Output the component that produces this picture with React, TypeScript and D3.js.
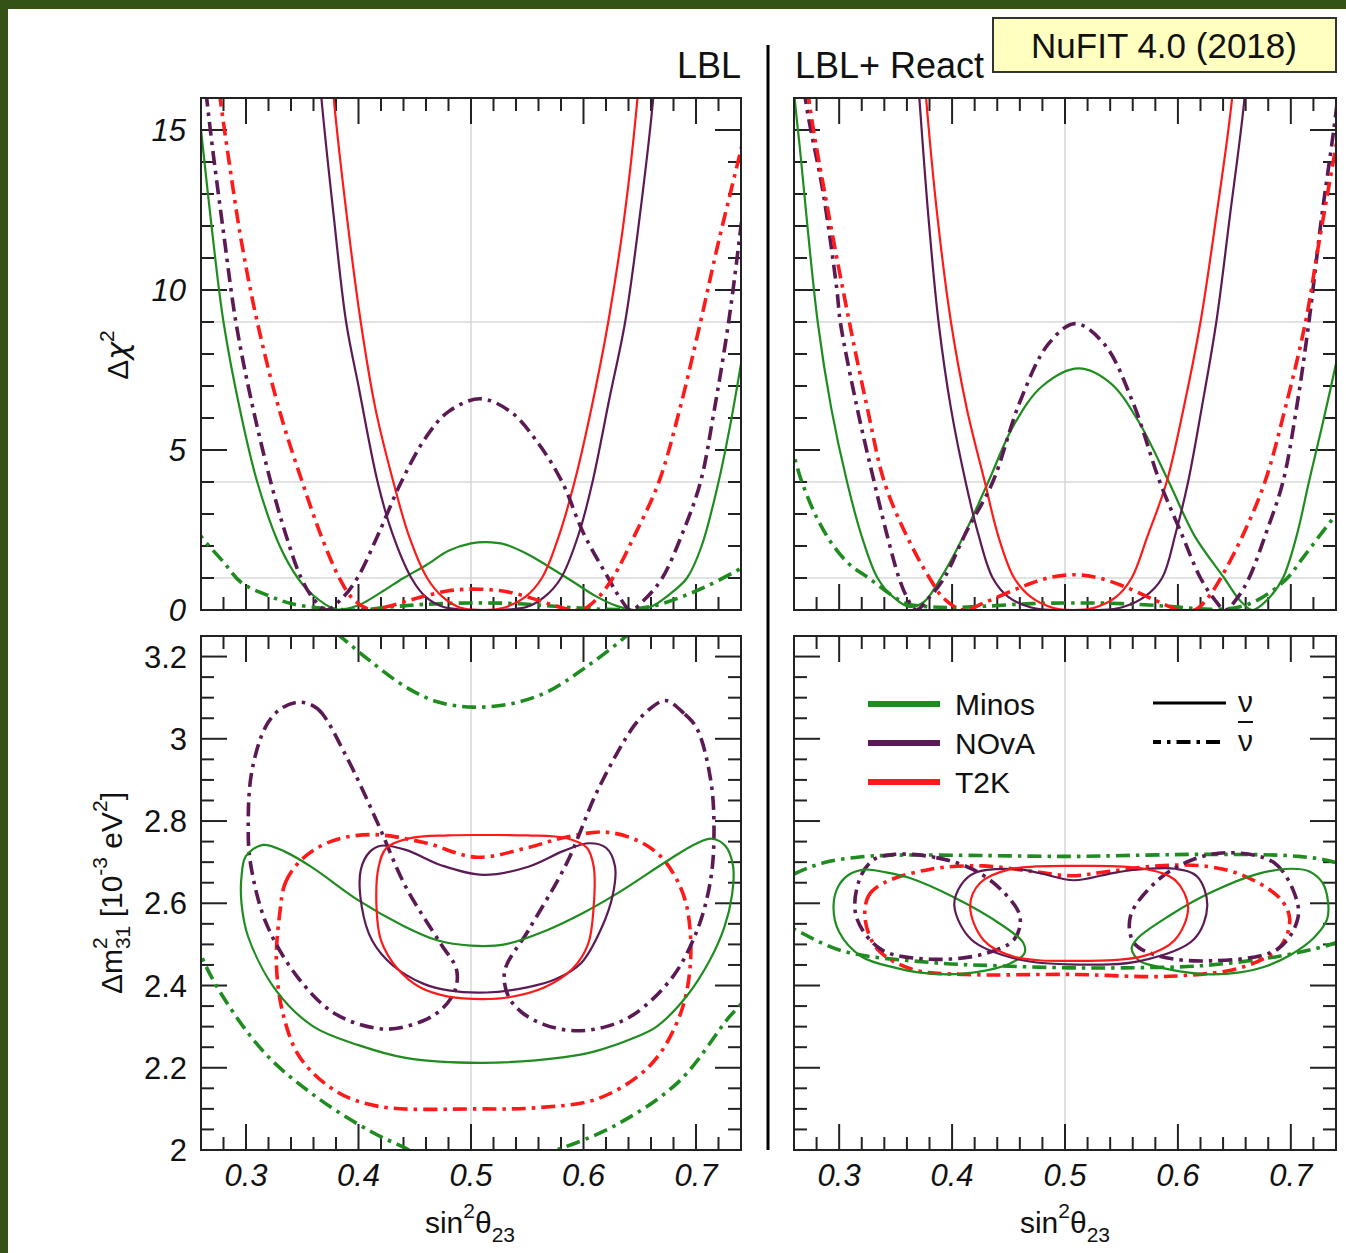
import React from 'react';
import * as d3 from 'd3';

type P = [number, number];

const GREEN = '#1f8c1f';
const PURPLE = '#5c1a55';
const RED = '#ff1a1a';
const FONT = '"Liberation Sans", Arial, sans-serif';
const DASHDOT = '14 6 3.5 6';

// ---------- tick values ----------
const xMajorTicks = [0.3, 0.4, 0.5, 0.6, 0.7];
const xTickLabels = ['0.3', '0.4', '0.5', '0.6', '0.7'];
const chiMajorTicks = [5, 10, 15];
const chiTickLabels = ['0', '5', '10', '15'];
const chiLabelValues = [0, 5, 10, 15];
const chiGrid = [1, 4, 9];
const dmMajorTicks = [2.2, 2.4, 2.6, 2.8, 3.0, 3.2];
const dmLabelValues = [2, 2.2, 2.4, 2.6, 2.8, 3.0, 3.2];
const dmTickLabels = ['2', '2.2', '2.4', '2.6', '2.8', '3', '3.2'];

// ---------- Δχ² profiles, LBL ----------
const minosNuLBL: P[] = [[0.255,16.5],[0.26,15],[0.27,11.8],[0.28,9],[0.295,6.2],[0.31,4],[0.33,2],[0.346,1],[0.36,0.45],[0.38,0.02],[0.40,0.15],[0.42,0.55],[0.44,1.0],[0.46,1.4],[0.48,1.85],[0.50,2.08],[0.514,2.12],[0.53,2.05],[0.55,1.75],[0.567,1.4],[0.59,0.9],[0.61,0.45],[0.63,0.12],[0.645,0.0],[0.66,0.1],[0.675,0.45],[0.692,1.0],[0.705,2.0],[0.72,4.0],[0.73,5.7],[0.74,7.7],[0.745,8.8]];
const minosNubarLBL: P[] = [[0.255,2.6],[0.26,2.3],[0.28,1.5],[0.296,0.85],[0.32,0.45],[0.34,0.2],[0.37,0.05],[0.40,0.0],[0.43,0.1],[0.46,0.18],[0.50,0.22],[0.54,0.2],[0.58,0.1],[0.62,0.02],[0.65,0.05],[0.67,0.2],[0.69,0.45],[0.71,0.75],[0.74,1.3],[0.745,1.4]];
const novaNuLBL: P[] = [[0.36,19],[0.367,16],[0.378,12.3],[0.389,9],[0.40,7.0],[0.417,4],[0.43,2.4],[0.447,1.0],[0.46,0.4],[0.475,0.1],[0.49,0.02],[0.513,0.0],[0.535,0.02],[0.55,0.1],[0.565,0.4],[0.58,1.0],[0.596,2.4],[0.608,4],[0.623,6.6],[0.637,9],[0.65,12.3],[0.662,16],[0.668,19]];
const t2kNuLBL: P[] = [[0.372,19],[0.378,16],[0.39,12.2],[0.402,9],[0.415,6.3],[0.431,4],[0.445,2.3],[0.461,1.0],[0.475,0.4],[0.49,0.08],[0.51,0.0],[0.53,0.08],[0.548,0.4],[0.563,1.0],[0.578,2.3],[0.592,4],[0.607,6.3],[0.622,9],[0.636,12.2],[0.648,16],[0.654,19]];
const novaNubarLBL: P[] = [[0.258,18],[0.265,16],[0.27,14.5],[0.28,11.8],[0.291,9],[0.305,6.5],[0.322,4],[0.335,2.4],[0.349,1.0],[0.36,0.35],[0.371,0.0],[0.385,0.35],[0.399,1.0],[0.418,2.4],[0.438,4],[0.46,5.4],[0.48,6.2],[0.508,6.6],[0.535,6.2],[0.56,5.2],[0.581,4],[0.60,2.4],[0.622,1.0],[0.632,0.4],[0.642,0.0],[0.655,0.35],[0.67,1.0],[0.688,2.4],[0.704,4],[0.716,6.2],[0.729,9],[0.74,12],[0.745,13.5]];
const t2kNubarLBL: P[] = [[0.27,18],[0.277,16],[0.285,14],[0.296,11.5],[0.31,9],[0.33,6.2],[0.35,4],[0.367,2.3],[0.383,1.0],[0.395,0.35],[0.41,0.02],[0.425,0.1],[0.45,0.35],[0.48,0.6],[0.508,0.65],[0.535,0.55],[0.56,0.3],[0.58,0.08],[0.598,0.0],[0.612,0.35],[0.626,1.0],[0.645,2.3],[0.667,4],[0.685,6.2],[0.704,9],[0.72,11.5],[0.74,14.4],[0.745,15.2]];

// ---------- Δχ² profiles, LBL + React ----------
const minosNuR: P[] = [[0.256,18],[0.26,16.2],[0.265,14.5],[0.281,9],[0.293,6.3],[0.307,4],[0.32,2.3],[0.334,1.0],[0.348,0.4],[0.362,0.1],[0.375,0.25],[0.39,1.0],[0.41,2.3],[0.432,4],[0.455,5.8],[0.48,7.0],[0.512,7.55],[0.54,7.1],[0.565,5.9],[0.592,4],[0.615,2.3],[0.641,1.0],[0.655,0.3],[0.666,0.0],[0.68,0.35],[0.693,1.0],[0.705,2.3],[0.716,4],[0.728,5.8],[0.74,7.7],[0.745,8.6]];
const minosNubarR: P[] = [[0.255,5.3],[0.26,4.8],[0.267,4],[0.28,2.9],[0.295,2.0],[0.31,1.4],[0.326,1.0],[0.345,0.5],[0.36,0.2],[0.38,0.1],[0.40,0.08],[0.43,0.12],[0.47,0.2],[0.51,0.22],[0.55,0.2],[0.59,0.12],[0.63,0.02],[0.655,0.1],[0.675,0.4],[0.697,1.0],[0.71,1.6],[0.725,2.3],[0.74,3.0],[0.745,3.3]];
const novaNuR: P[] = [[0.365,19],[0.371,16],[0.379,12.3],[0.388,9],[0.399,6.3],[0.412,4],[0.423,2.4],[0.436,1.0],[0.45,0.4],[0.47,0.08],[0.49,0.0],[0.51,0.0],[0.53,0.0],[0.55,0.08],[0.57,0.4],[0.586,1.0],[0.598,2.4],[0.609,4],[0.621,6.3],[0.634,9],[0.646,12.3],[0.659,16],[0.665,19]];
const t2kNuR: P[] = [[0.371,19],[0.377,16],[0.387,12.3],[0.399,9],[0.413,6.3],[0.429,4],[0.441,2.3],[0.455,1.0],[0.47,0.4],[0.49,0.06],[0.507,0.0],[0.525,0.06],[0.545,0.4],[0.559,1.0],[0.573,2.3],[0.59,4],[0.605,6.3],[0.62,9],[0.634,12.3],[0.648,16],[0.654,19]];
const novaNubarR: P[] = [[0.262,19],[0.27,16],[0.286,13],[0.298,10],[0.301,9],[0.316,6.3],[0.331,4],[0.342,2.4],[0.353,1.0],[0.36,0.4],[0.368,0.0],[0.38,0.4],[0.393,1.0],[0.412,2.4],[0.436,4],[0.46,6.5],[0.485,8.3],[0.509,8.95],[0.535,8.3],[0.56,6.5],[0.584,4],[0.603,2.4],[0.62,1.0],[0.632,0.35],[0.642,0.0],[0.652,0.35],[0.663,1.0],[0.678,2.4],[0.693,4],[0.705,6.3],[0.716,9],[0.727,12.2],[0.738,15],[0.745,17]];
const t2kNubarR: P[] = [[0.265,19],[0.273,16],[0.29,12.5],[0.309,9],[0.325,6.3],[0.34,4],[0.36,2.3],[0.38,1.0],[0.393,0.35],[0.41,0.0],[0.43,0.25],[0.46,0.7],[0.485,1.0],[0.508,1.1],[0.53,1.0],[0.555,0.7],[0.58,0.3],[0.6,0.02],[0.615,0.0],[0.627,0.4],[0.638,1.0],[0.657,2.3],[0.677,4],[0.695,6.3],[0.713,9],[0.725,11.5],[0.74,14.5],[0.745,15.5]];

// ---------- 90% CL contours, LBL ----------
const minosNuC_LBL: P[] = [[0.296,2.665],[0.300,2.715],[0.315,2.742],[0.335,2.725],[0.36,2.685],[0.40,2.607],[0.44,2.545],[0.47,2.51],[0.50,2.497],[0.53,2.50],[0.567,2.534],[0.60,2.577],[0.63,2.624],[0.676,2.706],[0.70,2.745],[0.714,2.757],[0.726,2.74],[0.733,2.69],[0.732,2.62],[0.725,2.54],[0.712,2.46],[0.692,2.375],[0.665,2.30],[0.645,2.273],[0.61,2.24],[0.583,2.226],[0.511,2.212],[0.442,2.224],[0.40,2.255],[0.36,2.30],[0.327,2.387],[0.302,2.518],[0.296,2.60]];
const minosNubarC_LBL: P[] = [[0.33,3.36],[0.36,3.30],[0.386,3.244],[0.41,3.19],[0.442,3.126],[0.47,3.09],[0.502,3.077],[0.535,3.085],[0.567,3.113],[0.60,3.17],[0.639,3.252],[0.67,3.33],[0.74,3.5],[0.80,3.1],[0.79,2.6],[0.76,2.44],[0.74,2.355],[0.729,2.322],[0.685,2.167],[0.629,2.061],[0.576,2.0],[0.55,1.98],[0.50,1.96],[0.46,1.98],[0.439,2.008],[0.411,2.045],[0.364,2.126],[0.318,2.232],[0.28,2.371],[0.26,2.474],[0.245,2.6],[0.225,2.9],[0.23,3.3]];
const novaNuC_LBL: P[] = [[0.402,2.681],[0.41,2.725],[0.42,2.74],[0.442,2.73],[0.474,2.692],[0.511,2.669],[0.551,2.689],[0.583,2.728],[0.605,2.746],[0.62,2.735],[0.628,2.69],[0.626,2.62],[0.616,2.54],[0.598,2.455],[0.575,2.415],[0.551,2.396],[0.514,2.383],[0.48,2.388],[0.458,2.404],[0.43,2.45],[0.412,2.51],[0.403,2.59]];
const t2kNuC_LBL: P[] = [[0.416,2.59],[0.418,2.69],[0.425,2.735],[0.445,2.758],[0.48,2.765],[0.51,2.766],[0.55,2.765],[0.585,2.758],[0.603,2.735],[0.609,2.69],[0.609,2.59],[0.604,2.50],[0.59,2.44],[0.565,2.395],[0.535,2.372],[0.51,2.367],[0.48,2.373],[0.455,2.395],[0.435,2.44],[0.42,2.51]];
const t2kNubarC_LBL: P[] = [[0.33,2.575],[0.335,2.65],[0.349,2.705],[0.375,2.75],[0.411,2.767],[0.458,2.748],[0.505,2.712],[0.55,2.735],[0.583,2.76],[0.62,2.773],[0.65,2.75],[0.67,2.71],[0.686,2.64],[0.693,2.575],[0.695,2.453],[0.686,2.33],[0.66,2.208],[0.614,2.126],[0.56,2.103],[0.505,2.1],[0.418,2.106],[0.38,2.143],[0.348,2.225],[0.333,2.33],[0.327,2.453]];
const novaNubarC_LBL_a: P[] = [[0.349,3.089],[0.364,3.072],[0.389,2.958],[0.417,2.795],[0.442,2.64],[0.473,2.502],[0.487,2.44],[0.486,2.39],[0.475,2.345],[0.458,2.315],[0.424,2.294],[0.38,2.33],[0.346,2.42],[0.318,2.551],[0.304,2.697],[0.302,2.779],[0.305,2.918],[0.318,3.032],[0.332,3.075]];
const novaNubarC_LBL_b: P[] = [[0.673,3.093],[0.69,3.06],[0.701,3.024],[0.713,2.901],[0.716,2.779],[0.713,2.657],[0.701,2.534],[0.679,2.42],[0.645,2.33],[0.62,2.3],[0.592,2.29],[0.565,2.305],[0.545,2.335],[0.533,2.375],[0.53,2.436],[0.551,2.534],[0.585,2.697],[0.613,2.877],[0.645,3.032],[0.66,3.075]];

// ---------- 90% CL contours, LBL + React ----------
const minosNuC_R_a: P[] = [[0.295,2.594],[0.30,2.645],[0.31,2.672],[0.323,2.682],[0.34,2.676],[0.362,2.662],[0.402,2.614],[0.443,2.549],[0.463,2.504],[0.464,2.478],[0.45,2.452],[0.42,2.432],[0.396,2.427],[0.37,2.432],[0.35,2.443],[0.32,2.47],[0.30,2.53]];
const minosNuC_R_b: P[] = [[0.733,2.602],[0.728,2.65],[0.716,2.678],[0.70,2.684],[0.67,2.671],[0.629,2.626],[0.592,2.569],[0.564,2.514],[0.559,2.49],[0.566,2.46],[0.582,2.446],[0.60,2.435],[0.629,2.427],[0.655,2.432],[0.676,2.445],[0.70,2.475],[0.72,2.515],[0.732,2.56]];
const minosNubarC_R: P[] = [[0.23,2.62],[0.26,2.671],[0.287,2.699],[0.32,2.713],[0.35,2.717],[0.43,2.716],[0.505,2.714],[0.57,2.717],[0.629,2.719],[0.707,2.714],[0.74,2.699],[0.77,2.66],[0.78,2.55],[0.74,2.504],[0.691,2.472],[0.62,2.448],[0.55,2.443],[0.505,2.443],[0.44,2.448],[0.381,2.456],[0.303,2.484],[0.26,2.537],[0.22,2.59]];
const novaNuC_R: P[] = [[0.402,2.594],[0.408,2.645],[0.421,2.675],[0.458,2.683],[0.478,2.673],[0.508,2.656],[0.538,2.671],[0.56,2.681],[0.598,2.684],[0.617,2.665],[0.626,2.594],[0.614,2.512],[0.567,2.46],[0.511,2.451],[0.458,2.464],[0.417,2.512]];
const t2kNuC_R: P[] = [[0.416,2.594],[0.425,2.65],[0.45,2.682],[0.511,2.691],[0.57,2.684],[0.598,2.655],[0.609,2.589],[0.597,2.51],[0.57,2.472],[0.511,2.46],[0.455,2.47],[0.428,2.51]];
const t2kNubarC_R: P[] = [[0.323,2.561],[0.326,2.618],[0.34,2.65],[0.381,2.683],[0.427,2.691],[0.47,2.678],[0.505,2.667],[0.54,2.678],[0.583,2.691],[0.625,2.69],[0.66,2.665],[0.691,2.61],[0.699,2.561],[0.691,2.496],[0.66,2.447],[0.598,2.423],[0.505,2.427],[0.412,2.427],[0.365,2.439],[0.334,2.488]];
const novaNubarC_R_a: P[] = [[0.349,2.719],[0.386,2.711],[0.418,2.683],[0.443,2.634],[0.46,2.569],[0.455,2.512],[0.427,2.476],[0.381,2.464],[0.337,2.488],[0.315,2.569],[0.318,2.658],[0.33,2.705]];
const novaNubarC_R_b: P[] = [[0.645,2.723],[0.685,2.699],[0.704,2.618],[0.706,2.561],[0.688,2.488],[0.629,2.46],[0.583,2.472],[0.561,2.504],[0.558,2.569],[0.583,2.658],[0.614,2.707]];

const legendNames = ['Minos', 'NOvA', 'T2K'];
const legendColors = [GREEN, PURPLE, RED];

type Series = { pts: P[]; color: string; dash: boolean };

const LBL_PROFILES: Series[] = [
  { pts: minosNubarLBL, color: GREEN, dash: true },
  { pts: minosNuLBL, color: GREEN, dash: false },
  { pts: novaNuLBL, color: PURPLE, dash: false },
  { pts: t2kNuLBL, color: RED, dash: false },
  { pts: novaNubarLBL, color: PURPLE, dash: true },
  { pts: t2kNubarLBL, color: RED, dash: true },
];
const R_PROFILES: Series[] = [
  { pts: minosNubarR, color: GREEN, dash: true },
  { pts: minosNuR, color: GREEN, dash: false },
  { pts: novaNuR, color: PURPLE, dash: false },
  { pts: t2kNuR, color: RED, dash: false },
  { pts: novaNubarR, color: PURPLE, dash: true },
  { pts: t2kNubarR, color: RED, dash: true },
];
const LBL_CONTOURS: Series[] = [
  { pts: minosNubarC_LBL, color: GREEN, dash: true },
  { pts: t2kNubarC_LBL, color: RED, dash: true },
  { pts: novaNubarC_LBL_a, color: PURPLE, dash: true },
  { pts: novaNubarC_LBL_b, color: PURPLE, dash: true },
  { pts: minosNuC_LBL, color: GREEN, dash: false },
  { pts: novaNuC_LBL, color: PURPLE, dash: false },
  { pts: t2kNuC_LBL, color: RED, dash: false },
];
const R_CONTOURS: Series[] = [
  { pts: minosNubarC_R, color: GREEN, dash: true },
  { pts: t2kNubarC_R, color: RED, dash: true },
  { pts: novaNubarC_R_a, color: PURPLE, dash: true },
  { pts: novaNubarC_R_b, color: PURPLE, dash: true },
  { pts: minosNuC_R_a, color: GREEN, dash: false },
  { pts: minosNuC_R_b, color: GREEN, dash: false },
  { pts: novaNuC_R, color: PURPLE, dash: false },
  { pts: t2kNuC_R, color: RED, dash: false },
];

type PanelProps = {
  id: string;
  x0: number; x1: number; y0: number; y1: number;
  kind: 'chi' | 'dm';
  series: Series[];
  closed: boolean;
  yLabels: boolean;
  xLabels: boolean;
};

function Panel({ id, x0, x1, y0, y1, kind, series, closed, yLabels, xLabels }: PanelProps) {
  const xs = d3.scaleLinear().domain([0.26, 0.74]).range([x0, x1]);
  const ys = kind === 'chi'
    ? d3.scaleLinear().domain([0, 16]).range([y1, y0])
    : d3.scaleLinear().domain([2, 3.25]).range([y1, y0]);
  const line = d3.line<P>().x(d => xs(d[0])).y(d => ys(d[1]))
    .curve(closed ? d3.curveCatmullRomClosed.alpha(0.5) : d3.curveCatmullRom.alpha(0.5));

  const xMinor = d3.range(0.28, 0.7201, 0.02).filter(v => !xMajorTicks.some(m => Math.abs(m - v) < 1e-6));
  const yMinor = kind === 'chi'
    ? d3.range(1, 16).filter(v => !chiMajorTicks.includes(v))
    : d3.range(2.05, 3.2401, 0.05).filter(v => !dmMajorTicks.some(m => Math.abs(m - v) < 1e-6));
  const yMajor = kind === 'chi' ? chiMajorTicks : dmMajorTicks;
  const MAJ = 26, MIN = 13;
  const tickStroke = '#222';

  return (
    <g>
      <defs>
        <clipPath id={id}><rect x={x0} y={y0} width={x1 - x0} height={y1 - y0} /></clipPath>
      </defs>
      <line x1={xs(0.5)} x2={xs(0.5)} y1={y0} y2={y1} stroke="#d9d9d9" strokeWidth={1.6} />
      {kind === 'chi' && chiGrid.map(g => (
        <line key={g} x1={x0} x2={x1} y1={ys(g)} y2={ys(g)} stroke="#d9d9d9" strokeWidth={1.6} />
      ))}
      {xMinor.map((v, i) => (
        <g key={'xm' + i}>
          <line x1={xs(v)} x2={xs(v)} y1={y1} y2={y1 - MIN} stroke={tickStroke} strokeWidth={2} />
          <line x1={xs(v)} x2={xs(v)} y1={y0} y2={y0 + MIN} stroke={tickStroke} strokeWidth={2} />
        </g>
      ))}
      {xMajorTicks.map((v, i) => (
        <g key={'xM' + i}>
          <line x1={xs(v)} x2={xs(v)} y1={y1} y2={y1 - MAJ} stroke={tickStroke} strokeWidth={2} />
          <line x1={xs(v)} x2={xs(v)} y1={y0} y2={y0 + MAJ} stroke={tickStroke} strokeWidth={2} />
        </g>
      ))}
      {yMinor.map((v, i) => (
        <g key={'ym' + i}>
          <line x1={x0} x2={x0 + MIN} y1={ys(v)} y2={ys(v)} stroke={tickStroke} strokeWidth={2} />
          <line x1={x1} x2={x1 - MIN} y1={ys(v)} y2={ys(v)} stroke={tickStroke} strokeWidth={2} />
        </g>
      ))}
      {yMajor.map((v, i) => (
        <g key={'yM' + i}>
          <line x1={x0} x2={x0 + MAJ} y1={ys(v)} y2={ys(v)} stroke={tickStroke} strokeWidth={2} />
          <line x1={x1} x2={x1 - MAJ} y1={ys(v)} y2={ys(v)} stroke={tickStroke} strokeWidth={2} />
        </g>
      ))}
      <g clipPath={`url(#${id})`}>
        {series.map((s, i) => (
          <path key={i} d={line(s.pts) || ''} fill="none" stroke={s.color}
            strokeWidth={s.dash ? 3.6 : 2.2} strokeDasharray={s.dash ? DASHDOT : undefined} />
        ))}
      </g>
      <rect x={x0} y={y0} width={x1 - x0} height={y1 - y0} fill="none" stroke="#222" strokeWidth={2} />
      {yLabels && kind === 'chi' && chiLabelValues.map((v, i) => (
        <text key={'yl' + i} x={x0 - 15} y={ys(v) + 11} textAnchor="end" fontSize={31}
          fontStyle="italic" fontFamily={FONT} fill="#111">{chiTickLabels[i]}</text>
      ))}
      {yLabels && kind === 'dm' && dmLabelValues.map((v, i) => (
        <text key={'yl' + i} x={x0 - 14} y={ys(v) + 11} textAnchor="end" fontSize={31}
          fontFamily={FONT} fill="#111">{dmTickLabels[i]}</text>
      ))}
      {xLabels && xMajorTicks.map((v, i) => (
        <text key={'xl' + i} x={xs(v)} y={y1 + 36} textAnchor="middle" fontSize={31}
          fontStyle="italic" fontFamily={FONT} fill="#111">{xTickLabels[i]}</text>
      ))}
    </g>
  );
}

function SinLabel({ cx }: { cx: number }) {
  return (
    <text x={cx} y={1233} textAnchor="middle" fontSize={30} fontFamily={FONT} fill="#111">
      sin<tspan dy={-15} fontSize={21}>2</tspan><tspan dy={15}>θ</tspan><tspan dy={9} fontSize={21}>23</tspan>
    </text>
  );
}

export default function App() {
  const W = 1346, H = 1253;
  const L = { x0: 201, x1: 741 };
  const R = { x0: 794, x1: 1336 };
  const T = { y0: 98, y1: 610 };
  const B = { y0: 636, y1: 1150 };
  return (
    <svg width={W} height={H} style={{ position: 'absolute', left: 0, top: 0 }} fontFamily={FONT}>
      <rect x={0} y={0} width={W} height={H} fill="#345116" />
      <rect x={8} y={9} width={W - 8} height={H - 9} fill="#ffffff" />

      <Panel id="clipTL" {...L} {...T} kind="chi" series={LBL_PROFILES} closed={false} yLabels={true} xLabels={false} />
      <Panel id="clipTR" {...R} {...T} kind="chi" series={R_PROFILES} closed={false} yLabels={false} xLabels={false} />
      <Panel id="clipBL" {...L} {...B} kind="dm" series={LBL_CONTOURS} closed={true} yLabels={true} xLabels={true} />
      <Panel id="clipBR" {...R} {...B} kind="dm" series={R_CONTOURS} closed={true} yLabels={false} xLabels={true} />

      <line x1={768} x2={768} y1={45} y2={1150} stroke="#000" strokeWidth={3} />

      <text x={741} y={78} textAnchor="end" fontSize={36} fill="#111">LBL</text>
      <text x={795} y={78} textAnchor="start" fontSize={36} fill="#111">LBL+ React</text>
      <rect x={993} y={18} width={343} height={54} fill="#ffffc0" stroke="#333" strokeWidth={2} />
      <text x={1164} y={58} textAnchor="middle" fontSize={35} fill="#111">NuFIT 4.0 (2018)</text>

      <SinLabel cx={470} />
      <SinLabel cx={1065} />
      <text transform="translate(128,355) rotate(-90)" textAnchor="middle" fontSize={30} fill="#111">
        Δ<tspan fontFamily='"DejaVu Sans", sans-serif' fontStyle="italic">χ</tspan><tspan dy={-14} fontSize={21}>2</tspan>
      </text>
      <text transform="translate(122,893) rotate(-90)" textAnchor="middle" fontSize={30} fill="#111">
        Δm<tspan dy={-15} fontSize={21}>2</tspan><tspan dx={-11.7} dy={23} fontSize={21}>31</tspan><tspan dy={-8}> [10</tspan><tspan dy={-15} fontSize={21}>-3</tspan><tspan dy={15}> eV</tspan><tspan dy={-15} fontSize={21}>2</tspan><tspan dy={15}>]</tspan>
      </text>

      {legendNames.map((n, i) => (
        <g key={n}>
          <line x1={868} x2={940} y1={704 + i * 39} y2={704 + i * 39} stroke={legendColors[i]} strokeWidth={6} />
          <text x={955} y={715 + i * 39} fontSize={30} fill="#111">{n}</text>
        </g>
      ))}
      <line x1={1153} x2={1226} y1={703} y2={703} stroke="#000" strokeWidth={3} />
      <line x1={1153} x2={1226} y1={742} y2={742} stroke="#000" strokeWidth={4} strokeDasharray={DASHDOT} strokeDashoffset={-23.5} />
      <text x={1238} y={712} fontSize={30} fill="#111">ν</text>
      <line x1={1238} x2={1253} y1={722} y2={722} stroke="#111" strokeWidth={2} />
      <text x={1238} y={751} fontSize={30} fill="#111">ν</text>
    </svg>
  );
}
